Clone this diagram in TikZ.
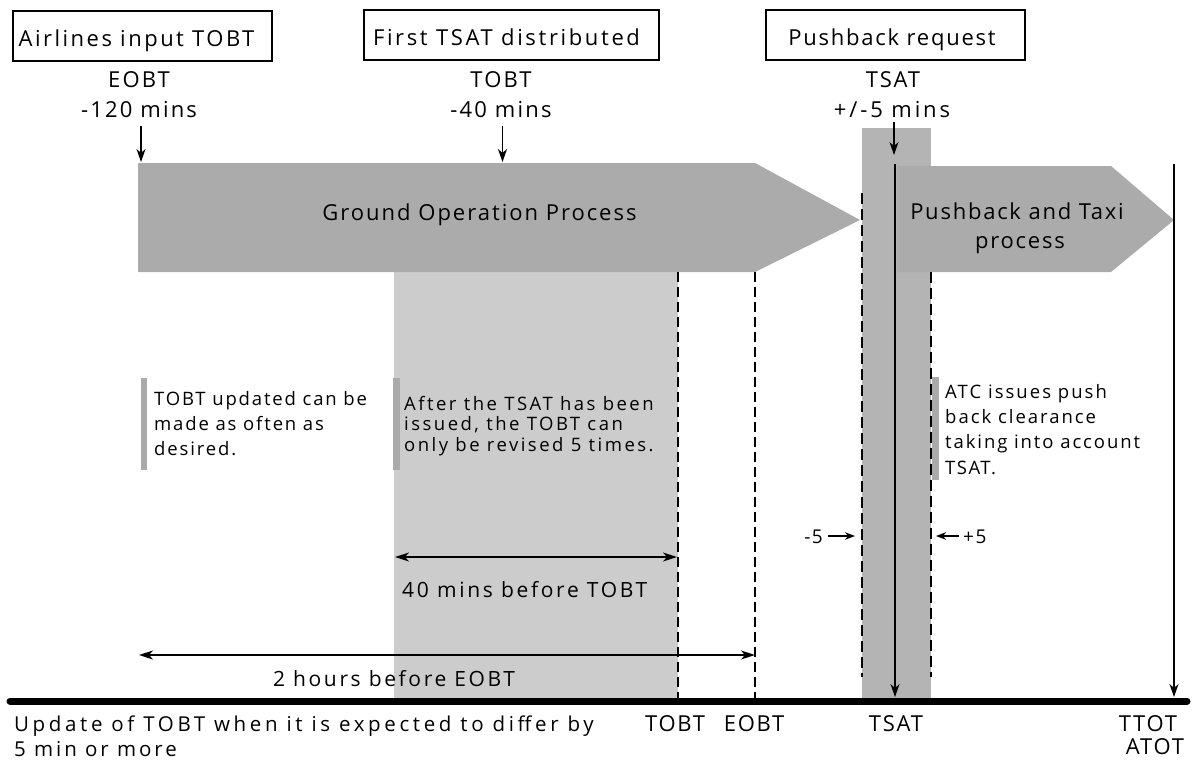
\documentclass[tikz,border=0pt]{standalone}
\usepackage{fontspec}
\setmainfont{Open Sans}
\usetikzlibrary{arrows.meta}
\definecolor{arrowgray}{HTML}{ABABAB}
\definecolor{bandgray}{HTML}{B4B4B4}
\definecolor{lightband}{HTML}{CCCCCC}
\definecolor{notebar}{HTML}{AAAAAA}
\begin{document}
\begin{tikzpicture}[x=1pt,y=-1pt,
  txt/.style 2 args={font=\fontsize{#1}{#1}\selectfont\addfontfeature{LetterSpace=#2}, inner sep=0pt},
  labelbox/.style={draw, line width=1.3pt, minimum height=50pt, inner sep=0pt,
     text height=22pt, text depth=1pt},
  pointer/.style={line width=1.6pt, -{Stealth[length=13pt,width=9pt,inset=4pt]}},
  smallpointer/.style={line width=1.5pt, -{Stealth[length=10pt,width=7.5pt,inset=3pt]}},
  span/.style={line width=1.5pt, {Stealth[length=14pt,width=9pt,inset=4pt]}-{Stealth[length=14pt,width=9pt,inset=4pt]}},
  guide/.style={line width=1.3pt, dash pattern=on 10pt off 5pt},
  bandguide/.style={line width=2pt, dash pattern=on 11pt off 5pt},
  timeline/.style={line width=7pt, line cap=round}]
\fill[white] (0,0) rectangle (1199,771);
\useasboundingbox (0,0) rectangle (1199,771);

% bands
\fill[lightband] (394,272) rectangle (678,701);
\fill[bandgray] (862,128) rectangle (931,701);

% process arrows
\fill[arrowgray] (138,163) -- (755,163) -- (860,220) -- (755,272) -- (138,272) -- cycle;
\fill[arrowgray] (897,166) -- (1111,166) -- (1174,220) -- (1111,272) -- (897,272) -- cycle;
\node[txt={22}{9}, anchor=base] (ground) at (479.5,220) {Ground Operation Process};
\node[txt={22}{8}, anchor=base] (push1) at (1017,219) {Pushback and Taxi};
\node[txt={22}{8}, anchor=base] (push2) at (1020,248) {process};

% boxes
\node[labelbox, txt={22}{11.3}, minimum width=259pt] (box1) at (142.5,36) {\hspace*{-12pt}Airlines input TOBT};
\node[labelbox, txt={22}{12}, minimum width=295pt] (box2) at (511.5,35) {\hspace*{-10pt}First TSAT distributed};
\node[labelbox, txt={22}{8}, minimum width=259pt] (box3) at (895.5,35) {\hspace*{-7pt}Pushback request};

% top labels
\node[txt={22}{10}, anchor=base] (eobtlab) at (139,87.5) {EOBT};
\node[txt={22}{10}, anchor=base] (eobtmin) at (139,117) {-120 mins};
\node[txt={22}{10}, anchor=base] (tobtlab) at (501,87.5) {TOBT};
\node[txt={22}{10}, anchor=base] (tobtmin) at (501,117) {-40 mins};
\node[txt={22}{8}, anchor=base] (tsatlab) at (893,87) {TSAT};
\node[txt={22}{13}, anchor=base] (tsatmin) at (892,117) {+/-5 mins};

\coordinate (eA) at (141,126); \coordinate (eB) at (141,162);
\coordinate (tA) at (502.5,126); \coordinate (tB) at (502.5,162);
\coordinate (sA) at (894,122); \coordinate (sB) at (894,155);
\draw[pointer] (eA) -- (eB);
\draw[pointer] (tA) -- (tB);
\draw[pointer] (sA) -- (sB);

% guide lines
\coordinate (g1a) at (862,193); \coordinate (g1b) at (862,677);
\coordinate (g2a) at (931,272); \coordinate (g2b) at (931,677);
\coordinate (g3a) at (678,272); \coordinate (g3b) at (678,701);
\coordinate (g4a) at (755,272); \coordinate (g4b) at (755,701);
\draw[bandguide] (g1a) -- (g1b);
\draw[bandguide] (g2a) -- (g2b);
\draw[guide] (g3a) -- (g3b);
\draw[guide] (g4a) -- (g4b);

% TSAT and TTOT lines
\coordinate (v1a) at (895,164); \coordinate (v1b) at (895,697);
\coordinate (v2a) at (1174,164); \coordinate (v2b) at (1174,697);
\draw[pointer] (v1a) -- (v1b);
\draw[pointer] (v2a) -- (v2b);

% notes
\fill[notebar] (140.5,378) rectangle (147,470);
\node[txt={18.5}{10}, anchor=base west] (n1a) at (154,405) {TOBT updated can be};
\node[txt={18.5}{10}, anchor=base west] (n1b) at (154,430) {made as often as};
\node[txt={18.5}{10}, anchor=base west] (n1c) at (154,455) {desired.};

\fill[notebar] (393,378) rectangle (400,470);
\node[txt={18.5}{13.4}, anchor=base west] (n2a) at (404,410) {After the TSAT has been};
\node[txt={18.5}{13.4}, anchor=base west] (n2b) at (404,430.5) {issued, the TOBT can};
\node[txt={18.5}{13.4}, anchor=base west] (n2c) at (404,451) {only be revised 5 times.};

\fill[notebar] (932,377) rectangle (939,480);
\node[txt={18.5}{11}, anchor=base west] (n3a) at (945,398) {ATC issues push};
\node[txt={18.5}{10.7}, anchor=base west] (n3b) at (945,423) {back clearance};
\node[txt={18.5}{10.3}, anchor=base west] (n3c) at (945,448) {taking into account};
\node[txt={18.5}{8}, anchor=base west] (n3d) at (945,474) {TSAT.};

% -5 / +5
\node[txt={19}{8}, anchor=base east] (minus5) at (823,543) {-5};
\node[txt={19}{8}, anchor=base west] (plus5) at (963,543) {+5};
\coordinate (m5a) at (828,536); \coordinate (m5b) at (855,536);
\coordinate (p5a) at (959,536); \coordinate (p5b) at (936,536);
\draw[smallpointer] (m5a) -- (m5b);
\draw[smallpointer] (p5a) -- (p5b);

% spans
\coordinate (s40a) at (395,557); \coordinate (s40b) at (677,557);
\draw[span] (s40a) -- (s40b);
\node[txt={21}{12.8}, anchor=base west] (s40lab) at (402,597) {40 mins before TOBT};
\coordinate (s2ha) at (139,655); \coordinate (s2hb) at (755,655);
\draw[span] (s2ha) -- (s2hb);
\node[txt={21}{12.5}, anchor=base] (s2hlab) at (394,686) {2 hours before EOBT};

% timeline
\coordinate (tlA) at (10,701); \coordinate (tlB) at (1187,701);
\draw[timeline] (tlA) -- (tlB);

% bottom labels
\node[txt={22}{8}, anchor=base] (btobt) at (675,731) {TOBT};
\node[txt={22}{8}, anchor=base] (beobt) at (754,731) {EOBT};
\node[txt={22}{8}, anchor=base] (btsat) at (896,731) {TSAT};
\node[txt={22}{8}, anchor=base] (bttot) at (1148,731) {TTOT};
\node[txt={22}{8}, anchor=base] (batot) at (1155,754) {ATOT};
\node[txt={20.5}{17.7}, anchor=base west] (upd1) at (14,731) {Update of TOBT when it is expected to differ by};
\node[txt={20.5}{14.3}, anchor=base west] (upd2) at (14,756) {5 min or more};
\end{tikzpicture}
\end{document}
